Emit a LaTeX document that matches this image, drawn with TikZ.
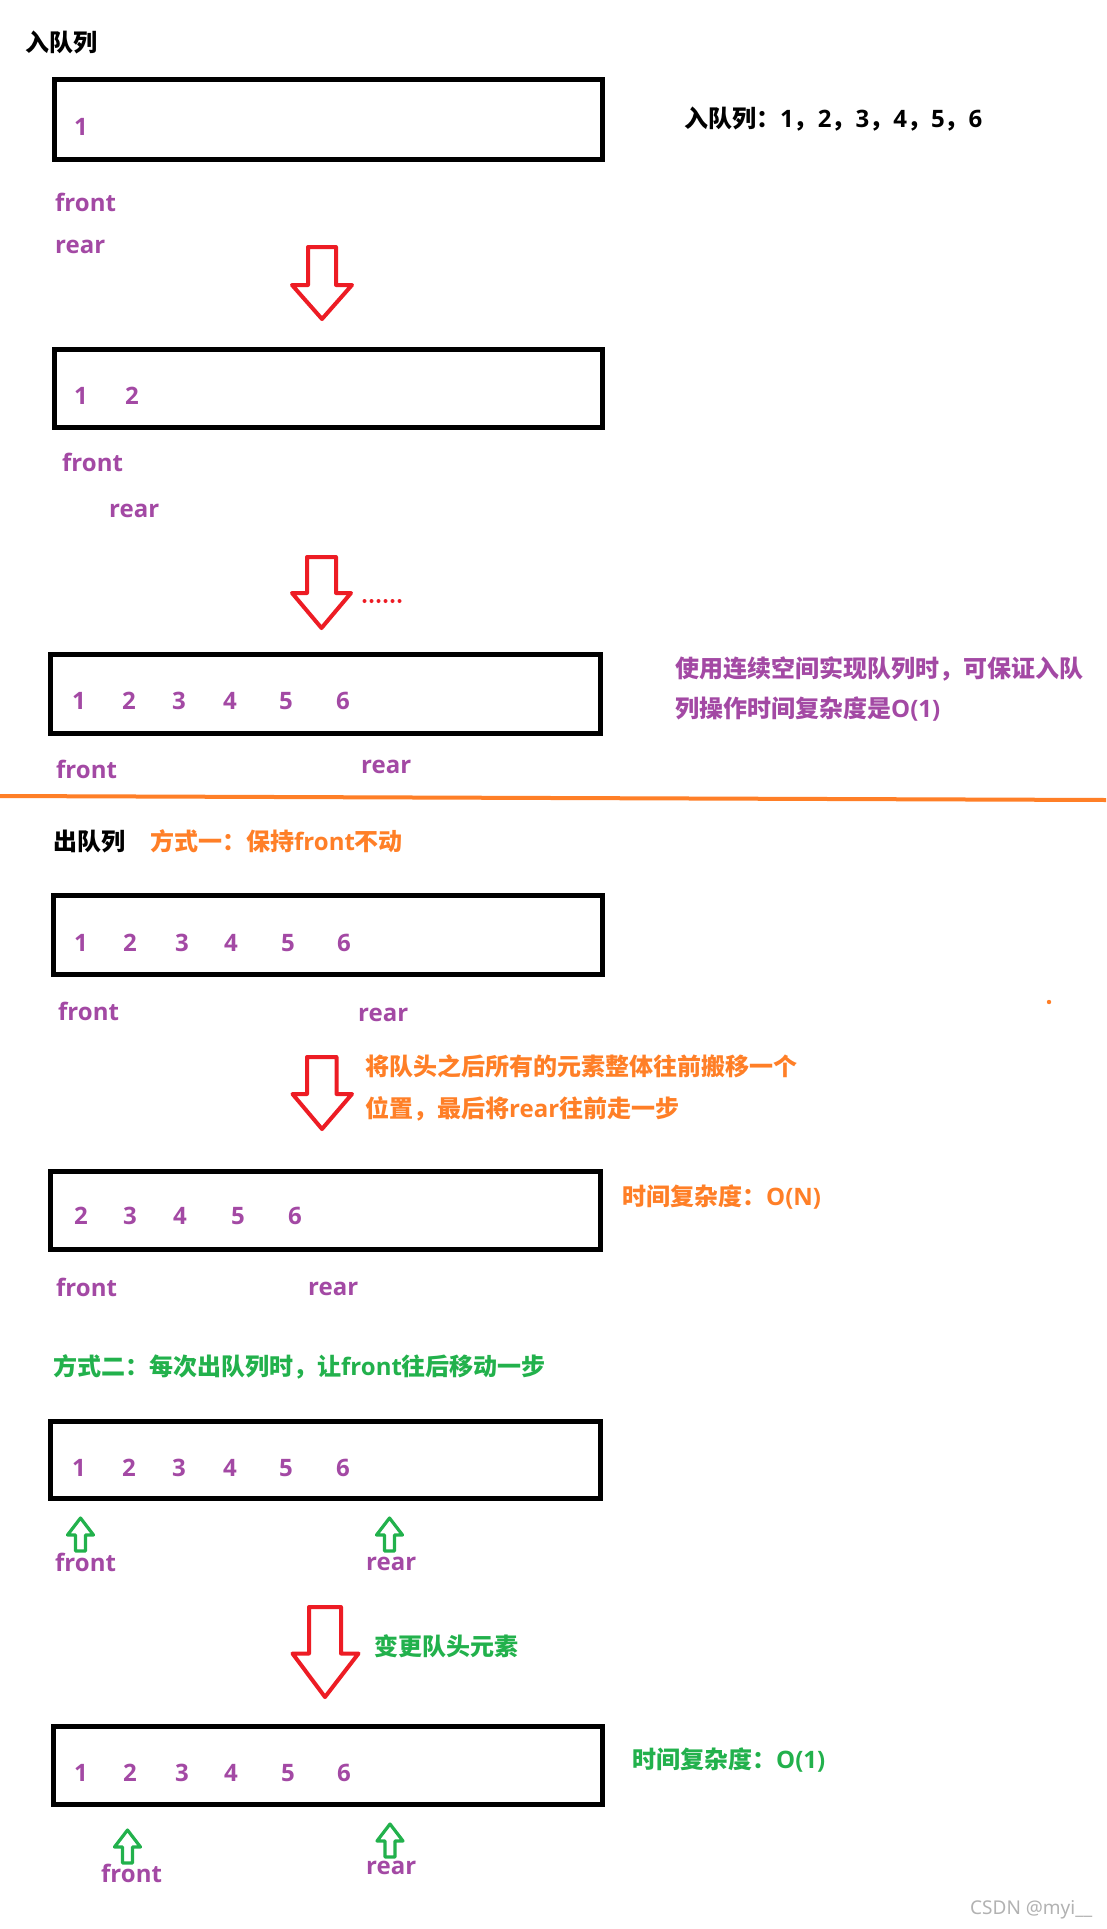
\documentclass[tikz,border=0pt]{standalone}
\usepackage{fontspec}
\setmainfont{Noto Sans CJK SC}
\newfontfamily\lat{Open Sans}
\newfontfamily\latreg{Noto Sans}
\definecolor{qpurple}{HTML}{A349A4}
\definecolor{qorange}{HTML}{FF7F27}
\definecolor{qgreen}{HTML}{22B14C}
\definecolor{qred}{HTML}{ED1C24}
\tikzset{
  qbox/.style={draw=black, line width=5pt, inner sep=0pt, outer sep=0pt},
  cn/.style={inner sep=0pt, anchor=base west, font=\fontsize{24}{28}\selectfont\bfseries},
  lab/.style={inner sep=0pt, anchor=base west, text=qpurple, font=\fontsize{24}{28}\selectfont\lat\bfseries},
  redarr/.style={draw=qred, line width=4pt, line join=round},
  grnarr/.style={draw=qgreen, line width=3.2pt, line join=round},
}
\begin{document}
\begin{tikzpicture}[x=1pt,y=-1pt]
\useasboundingbox[fill=white] (0,0) rectangle (1106,1929);

% ---------- enqueue ----------
\node[cn] (t1) at (25,52) {入队列};
\node[cn] (t2) at (684,128) {入队列：{\lat 1}，{\lat 2}，{\lat 3}，{\lat 4}，{\lat 5}，{\lat 6}};

\node[qbox, minimum width=548.5pt, minimum height=80pt] (b1) at (328.25,119.5) {};
\node[lab] (b1n1) at (74,136) {1};
\node[lab] (b1f) at (55,211.5) {front};
\node[lab] (b1r) at (55,253) {rear};

\draw[redarr] (308,247) -- (336,247) -- (336,285) -- (352,285) -- (322,319) -- (292,285) -- (308,285) -- cycle;

\node[qbox, minimum width=548.5pt, minimum height=78pt] (b2) at (328.25,388.5) {};
\node[lab] (b2n1) at (74,404) {1};
\node[lab] (b2n2) at (125,404) {2};
\node[lab] (b2f) at (62,471) {front};
\node[lab] (b2r) at (109,517) {rear};

\draw[redarr] (307,557) -- (336,557) -- (336,593) -- (351,593) -- (321.5,628) -- (292,593) -- (307,593) -- cycle;
\foreach \k in {0,...,5} \fill[qred] (364.5+\k*7,601) circle (2pt);

\node[qbox, minimum width=550pt, minimum height=79pt] (b3) at (325.5,694) {};
\foreach \i/\x in {1/72,2/122,3/172,4/223,5/279,6/336}
  \node[lab] (b3n\i) at (\x,709) {\i};
\node[cn, text=qpurple] (b3t1) at (675,677) {使用连续空间实现队列时，可保证入队};
\node[cn, text=qpurple] (b3t2) at (675,717) {列操作时间复杂度是{\lat O(1)}};
\node[lab] (b3f) at (56,778) {front};
\node[lab] (b3r) at (361,773) {rear};

\draw[qorange, line width=4pt] (0,796) -- (1106,800);

% ---------- dequeue, way 1 ----------
\node[cn] (t3) at (53,850) {出队列};
\node[cn, text=qorange] (t4) at (150,850) {方式一：保持{\lat front}不动};

\node[qbox, minimum width=549pt, minimum height=79pt] (b4) at (328,935) {};
\foreach \i/\x in {1/74,2/123,3/175,4/224,5/281,6/337}
  \node[lab] (b4n\i) at (\x,951) {\i};
\node[lab] (b4f) at (58,1020) {front};
\node[lab] (b4r) at (358,1021) {rear};
\fill[qorange] (1049,1002) circle (2.2pt);

\draw[redarr] (307,1057) -- (336.5,1057) -- (336.5,1094) -- (352,1094) -- (322,1129) -- (292.5,1094) -- (307,1094) -- cycle;
\node[cn, text=qorange] (a3t1) at (365,1075) {将队头之后所有的元素整体往前搬移一个};
\node[cn, text=qorange] (a3t2) at (365,1117) {位置，最后将{\lat rear}往前走一步};

\node[qbox, minimum width=550pt, minimum height=78pt] (b5) at (325.5,1210.5) {};
\foreach \i/\x in {2/74,3/123,4/173,5/231,6/288}
  \node[lab] (b5n\i) at (\x,1224) {\i};
\node[cn, text=qorange] (b5t) at (622,1205) {时间复杂度：{\lat O(N)}};
\node[lab] (b5f) at (56,1296) {front};
\node[lab] (b5r) at (308,1295) {rear};

% ---------- dequeue, way 2 ----------
\node[cn, text=qgreen] (t5) at (53,1375) {方式二：每次出队列时，让{\lat front}往后移动一步};

\node[qbox, minimum width=550pt, minimum height=77pt] (b6) at (325.5,1460) {};
\foreach \i/\x in {1/72,2/122,3/172,4/223,5/279,6/336}
  \node[lab] (b6n\i) at (\x,1476) {\i};
\draw[grnarr] (80.5,1518) -- ++(13,17) -- ++(-8,0) -- ++(0,16) -- ++(-10,0) -- ++(0,-16) -- ++(-8,0) -- cycle;
\draw[grnarr] (389.5,1518) -- ++(13,17) -- ++(-8,0) -- ++(0,16) -- ++(-10,0) -- ++(0,-16) -- ++(-8,0) -- cycle;
\node[lab] (b6f) at (55,1571) {front};
\node[lab] (b6r) at (366,1570) {rear};

\draw[redarr] (309,1607) -- (341,1607) -- (341,1653.5) -- (358.5,1653.5) -- (325,1697) -- (292.5,1653.5) -- (309,1653.5) -- cycle;
\node[cn, text=qgreen] (a4t) at (374,1655) {变更队头元素};

\node[qbox, minimum width=549pt, minimum height=78pt] (b7) at (328,1765.5) {};
\foreach \i/\x in {1/74,2/123,3/175,4/224,5/281,6/337}
  \node[lab] (b7n\i) at (\x,1781) {\i};
\node[cn, text=qgreen] (b7t) at (632,1768) {时间复杂度：{\lat O(1)}};
\draw[grnarr] (127.5,1830) -- ++(13,17) -- ++(-8,0) -- ++(0,16) -- ++(-10,0) -- ++(0,-16) -- ++(-8,0) -- cycle;
\draw[grnarr] (390,1824) -- ++(13,17) -- ++(-8,0) -- ++(0,16) -- ++(-10,0) -- ++(0,-16) -- ++(-8,0) -- cycle;
\node[lab] (b7f) at (101,1882) {front};
\node[lab] (b7r) at (366,1874) {rear};

\node[inner sep=0pt, anchor=base west, text=black!30, font=\fontsize{19}{22}\selectfont\latreg] (wm) at (970,1914) {CSDN @myi\_\_};
\end{tikzpicture}
\end{document}
